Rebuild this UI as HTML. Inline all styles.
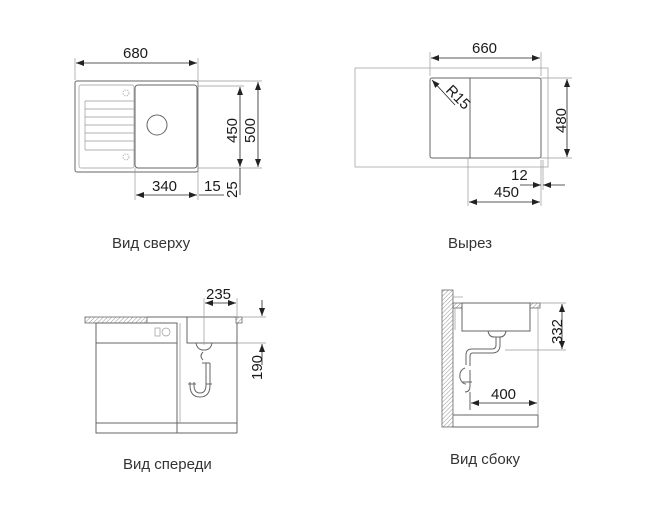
<!DOCTYPE html>
<html><head><meta charset="utf-8"><style>
html,body{margin:0;padding:0;background:#fff;}
svg{display:block;}
text{font-family:"Liberation Sans",sans-serif;fill:#1a1a1a;}
.l{stroke:#666;stroke-width:1;fill:none;}
.t{stroke:#999;stroke-width:0.7;fill:none;}
.d{stroke:#222;stroke-width:0.8;fill:none;}
.lab{font-size:15px;fill:#333;}
.n{font-size:15px;}
</style></head><body>
<svg width="648" height="530" viewBox="0 0 648 530" xmlns="http://www.w3.org/2000/svg">
<defs>
<marker id="a" markerWidth="8" markerHeight="6" refX="8" refY="3" orient="auto-start-reverse" markerUnits="userSpaceOnUse"><path d="M0,0 L8,3 L0,6 z" fill="#222"/></marker>
<pattern id="h" width="3" height="3" patternUnits="userSpaceOnUse" patternTransform="rotate(45)"><line x1="0" y1="0" x2="0" y2="3" stroke="#777" stroke-width="0.8"/></pattern>
</defs>

<rect class="l" x="75" y="81" width="123" height="91" rx="2"/>
<rect class="t" x="79" y="85" width="55" height="83" rx="2"/>
<rect class="l" x="135" y="85" width="62" height="83" rx="3"/>
<g class="t">
<line x1="85" y1="101" x2="134" y2="101"/><line x1="85" y1="109" x2="134" y2="109"/>
<line x1="85" y1="117" x2="134" y2="117"/><line x1="85" y1="125" x2="134" y2="125"/>
<line x1="85" y1="133" x2="134" y2="133"/><line x1="85" y1="141" x2="134" y2="141"/>
<line x1="85" y1="101" x2="85" y2="150"/><line x1="85" y1="150" x2="134" y2="150"/>
</g>
<circle class="l" cx="157" cy="125" r="10"/>
<circle class="t" cx="126" cy="93" r="3" stroke-dasharray="1.5 1"/>
<circle class="t" cx="126" cy="157" r="3" stroke-dasharray="1.5 1"/>
<line class="t" x1="75" y1="58" x2="75" y2="80"/><line class="t" x1="198" y1="58" x2="198" y2="200"/>
<line class="d" x1="76" y1="63" x2="197" y2="63" marker-start="url(#a)" marker-end="url(#a)"/>
<text class="n" x="123" y="58">680</text>
<line class="t" x1="198" y1="81" x2="262" y2="81"/><line class="t" x1="198" y1="86" x2="244" y2="86"/>
<line class="t" x1="198" y1="168" x2="262" y2="168"/>
<line class="d" x1="240" y1="87" x2="240" y2="167" marker-start="url(#a)" marker-end="url(#a)"/>
<line class="d" x1="258" y1="82" x2="258" y2="167" marker-start="url(#a)" marker-end="url(#a)"/>
<line class="d" x1="240" y1="168" x2="240" y2="195"/>
<text class="n" transform="translate(237,143) rotate(-90)">450</text>
<text class="n" transform="translate(255,143) rotate(-90)">500</text>
<text class="n" transform="translate(237,198) rotate(-90)">25</text>
<line class="t" x1="135" y1="168" x2="135" y2="200"/>
<line class="d" x1="136" y1="195" x2="197" y2="195" marker-start="url(#a)" marker-end="url(#a)"/>
<text class="n" x="152" y="191">340</text>
<line class="d" x1="199" y1="195" x2="224" y2="195" />
<text class="n" x="204" y="191">15</text>
<text class="lab" x="112" y="248">Вид сверху</text>

<rect class="t" x="355" y="68" width="193" height="99"/>
<rect class="l" x="430" y="78" width="111" height="80" rx="2"/>
<line class="l" x1="470" y1="78" x2="470" y2="158"/>
<line class="t" x1="430" y1="52" x2="430" y2="76"/><line class="t" x1="541" y1="52" x2="541" y2="76"/>
<line class="d" x1="431" y1="58" x2="540" y2="58" marker-start="url(#a)" marker-end="url(#a)"/>
<text class="n" x="472" y="53">660</text>
<line class="d" x1="455" y1="105" x2="432" y2="80" marker-end="url(#a)"/>
<text class="n" transform="translate(445,91) rotate(45)">R15</text>
<line class="t" x1="541" y1="78" x2="572" y2="78"/><line class="t" x1="541" y1="158" x2="572" y2="158"/>
<line class="d" x1="567" y1="79" x2="567" y2="157" marker-start="url(#a)" marker-end="url(#a)"/>
<text class="n" transform="translate(566,133) rotate(-90)">480</text>
<line class="t" x1="468" y1="158" x2="468" y2="206"/><line class="t" x1="541" y1="160" x2="541" y2="206"/><line class="t" x1="543" y1="160" x2="543" y2="190"/>
<line class="d" x1="520" y1="185" x2="541" y2="185" marker-end="url(#a)"/>
<line class="d" x1="565" y1="185" x2="543" y2="185" marker-end="url(#a)"/>
<text class="n" x="511" y="180">12</text>
<line class="d" x1="469" y1="202" x2="540" y2="202" marker-start="url(#a)" marker-end="url(#a)"/>
<text class="n" x="494" y="197">450</text>
<text class="lab" x="448" y="248">Вырез</text>

<rect x="85" y="317" width="62" height="6" fill="url(#h)" stroke="#666" stroke-width="0.8"/>
<line class="l" x1="147" y1="317" x2="237" y2="317"/>
<rect x="236" y="317" width="6" height="6" fill="url(#h)" stroke="#666" stroke-width="0.8"/>
<rect class="l" x="96" y="323" width="81" height="110"/>
<line class="l" x1="96" y1="343" x2="177" y2="343"/>
<line class="l" x1="96" y1="423" x2="237" y2="423"/>
<line class="l" x1="177" y1="433" x2="237" y2="433"/>
<line class="l" x1="237" y1="323" x2="237" y2="433"/>
<line class="t" x1="180" y1="323" x2="180" y2="423"/>
<rect class="t" x="155" y="328" width="5" height="8"/><circle class="t" cx="166" cy="332" r="4"/>
<polyline class="l" points="187,317 187,343 237,343"/>
<path class="l" d="M196,343 q1,6 6,7 h4 q5,-1 6,-7"/>
<path class="l" d="M203,352 q-4,4 0,8"/><line class="l" x1="202" y1="363" x2="210" y2="363"/>
<path class="l" d="M206,363 v22 q0,8 -6,8 q-6,0 -6,-8 v-3 M210,363 v22 q0,12 -10,12 q-10,0 -10,-12 v-3"/>
<line class="l" x1="188" y1="384" x2="196" y2="384"/><line class="l" x1="206" y1="384" x2="212" y2="384"/>
<line class="t" x1="204" y1="298" x2="204" y2="345"/><line class="t" x1="237" y1="298" x2="237" y2="317"/>
<line class="d" x1="205" y1="303" x2="236" y2="303" marker-start="url(#a)" marker-end="url(#a)"/>
<text class="n" x="206" y="299">235</text>
<line class="t" x1="242" y1="317" x2="266" y2="317"/><line class="t" x1="237" y1="343" x2="266" y2="343"/>
<line class="d" x1="262" y1="300" x2="262" y2="316" marker-end="url(#a)"/>
<line class="d" x1="262" y1="365" x2="262" y2="344" marker-end="url(#a)"/>
<text class="n" transform="translate(262,380) rotate(-90)">190</text>
<text class="lab" x="123" y="469">Вид спереди</text>

<rect x="442" y="290" width="11" height="137" fill="url(#h)" stroke="#666" stroke-width="0.8"/>
<line class="t" x1="453" y1="297" x2="463" y2="297"/>
<rect x="453" y="303" width="9" height="5" fill="url(#h)" stroke="#666" stroke-width="0.8"/>
<rect x="530" y="303" width="10" height="5" fill="url(#h)" stroke="#666" stroke-width="0.8"/>
<line class="l" x1="462" y1="303" x2="530" y2="303"/>
<rect class="l" x="462" y="303" width="68" height="28"/>
<line class="t" x1="455" y1="308" x2="455" y2="330"/>
<line class="t" x1="538" y1="308" x2="538" y2="415"/>
<path class="l" d="M488,331 q1,6 6,6 h6 q5,0 6,-6"/>
<path class="l" d="M496,337 v8 q0,4 -4,4 h-20 q-6,0 -6,6 v10"/>
<path class="l" d="M500,337 v8 q0,8 -8,8 h-19 q-3,0 -3,3 v10"/>
<path class="l" d="M465,368 q-6,2 -5,10 q2,6 6,6 M470,370 v16 q0,6 -5,6"/>
<line class="l" x1="462" y1="382" x2="472" y2="382"/>
<line class="l" x1="470" y1="392" x2="470" y2="410"/>
<line class="l" x1="453" y1="415" x2="538" y2="415"/>
<line class="l" x1="453" y1="427" x2="538" y2="427"/>
<line class="l" x1="538" y1="415" x2="538" y2="427"/>
<line class="t" x1="540" y1="303" x2="566" y2="303"/><line class="t" x1="505" y1="350" x2="566" y2="350"/>
<line class="d" x1="562" y1="304" x2="562" y2="349" marker-start="url(#a)" marker-end="url(#a)"/>
<text class="n" transform="translate(562,344) rotate(-90)">332</text>
<line class="d" x1="471" y1="403" x2="537" y2="403" marker-start="url(#a)" marker-end="url(#a)"/>
<text class="n" x="491" y="399">400</text>
<text class="lab" x="450" y="464">Вид сбоку</text>
</svg>
</body></html>
